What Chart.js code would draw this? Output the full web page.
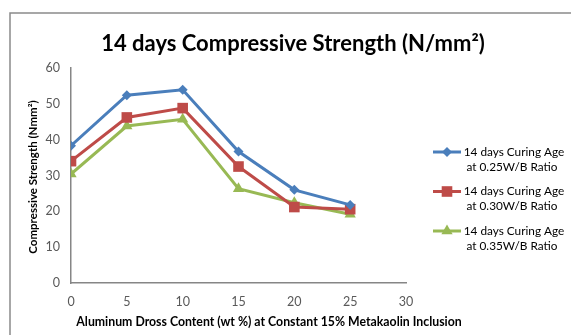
<!DOCTYPE html>
<html>
<head>
<meta charset="utf-8">
<script src="https://cdn.jsdelivr.net/npm/chart.js@4/dist/chart.umd.min.js"></script>
<style>
  html, body { margin: 0; padding: 0; background: #fff; }
  #wrap { position: relative; width: 571px; height: 335px; }
</style>
</head>
<body>
<div id="wrap"><canvas id="c" width="571" height="335"></canvas></div>
<script>
// Aluminum dross content (wt %) at constant 15% metakaolin
const drossContent = [0, 5, 10, 15, 20, 25];

// 14-day compressive strength for each water/binder ratio
const strengthWB025 = [38.3, 52.4, 53.9, 36.7, 26.0, 21.8];
const strengthWB030 = [34.0, 46.2, 48.8, 32.5, 21.2, 20.6];
const strengthWB035 = [30.4, 43.8, 45.7, 26.3, 22.4, 19.2];

const seriesNames = [
  ['14 days Curing Age', 'at 0.25W/B Ratio'],
  ['14 days Curing Age', 'at 0.30W/B Ratio'],
  ['14 days Curing Age', 'at 0.35W/B Ratio']
];

const xTicks = [0, 5, 10, 15, 20, 25, 30];
const yTicks = [0, 10, 20, 30, 40, 50, 60];

const chartTitle = '14 days Compressive Strength (N/mm\u00B2)';
const yTitle = 'Compressive Strength (Nmm\u00B2)';
const xTitle = 'Aluminum Dross Content (wt %) at Constant 15% Metakaolin Inclusion';

const colors = ['#4A7EBB', '#BE4B48', '#98B954'];
const styles = ['rectRot', 'rect', 'triangle'];
const radii = [5, 7.5, 6.5];
const values = [strengthWB025, strengthWB030, strengthWB035];

const FONT = 'Lato, "Liberation Sans", sans-serif';

function pts(arr) {
  return drossContent.map((x, i) => ({ x: x, y: arr[i] }));
}

function drawMarker(ctx, style, x, y, r, color) {
  ctx.save();
  ctx.fillStyle = color;
  ctx.beginPath();
  if (style === 'rectRot') {
    ctx.moveTo(x, y - r); ctx.lineTo(x + r, y); ctx.lineTo(x, y + r); ctx.lineTo(x - r, y);
  } else if (style === 'rect') {
    const s = r * Math.SQRT1_2;
    ctx.rect(x - s, y - s, 2 * s, 2 * s);
  } else {
    ctx.moveTo(x, y - r);
    ctx.lineTo(x + r * 0.866, y + r / 2);
    ctx.lineTo(x - r * 0.866, y + r / 2);
  }
  ctx.closePath();
  ctx.fill();
  ctx.restore();
}

// Frame, titles and legend drawn around the plot
const decorations = {
  id: 'decorations',
  beforeDraw(chart) {
    const ctx = chart.ctx;
    ctx.save();
    ctx.strokeStyle = '#8a8a8a';
    ctx.lineWidth = 1.5;
    ctx.beginPath();
    ctx.moveTo(10, 335);
    ctx.lineTo(10, 13);
    ctx.lineTo(571, 13);
    ctx.stroke();
    ctx.restore();
  },
  afterDraw(chart) {
    const ctx = chart.ctx;
    ctx.save();
    ctx.fillStyle = '#000';
    ctx.textAlign = 'center';
    ctx.textBaseline = 'middle';
    ctx.font = 'bold 22px ' + FONT;
    ctx.fillText(chartTitle, 293, 44);

    ctx.font = 'bold 12.3px ' + FONT;
    ctx.fillText(xTitle, 269, 322);

    ctx.save();
    ctx.translate(33, 177);
    ctx.rotate(-Math.PI / 2);
    ctx.font = 'bold 11.5px ' + FONT;
    ctx.fillText(yTitle, 0, 0);
    ctx.restore();

    // legend
    ctx.font = '11.8px ' + FONT;
    ctx.fillStyle = '#000';
    for (let i = 0; i < seriesNames.length; i++) {
      const y = 152 + i * 39.5;
      ctx.strokeStyle = colors[i];
      ctx.lineWidth = 3;
      ctx.beginPath();
      ctx.moveTo(433, y);
      ctx.lineTo(461, y);
      ctx.stroke();
      drawMarker(ctx, styles[i], 447, y, radii[i], colors[i]);
      ctx.fillText(seriesNames[i][0], 514, y);
      ctx.fillText(seriesNames[i][1], 512, y + 15);
    }
    ctx.restore();
  }
};

new Chart(document.getElementById('c'), {
  type: 'line',
  data: {
    datasets: values.map((v, i) => ({
      label: seriesNames[i].join(' '),
      data: pts(v),
      borderColor: colors[i],
      backgroundColor: colors[i],
      borderWidth: 3,
      pointStyle: styles[i],
      pointRadius: radii[i],
      pointBorderWidth: 0,
      pointBackgroundColor: colors[i],
      tension: 0
    }))
  },
  options: {
    responsive: false,
    animation: false,
    layout: { padding: { left: 0, top: 68, right: 165, bottom: 0 } },
    plugins: { legend: { display: false }, title: { display: false }, tooltip: { enabled: false } },
    scales: {
      x: {
        type: 'linear', min: 0, max: 30,
        afterBuildTicks(s) { s.ticks = xTicks.map(v => ({ value: v })); },
        afterFit(s) { s.height = 52; },
        grid: { display: false, drawTicks: false },
        border: { display: true, color: '#868686', width: 1.5 },
        ticks: { color: '#595959', font: { family: FONT, size: 12.5 }, padding: 11, maxRotation: 0 }
      },
      y: {
        min: 0, max: 60,
        afterBuildTicks(s) { s.ticks = yTicks.map(v => ({ value: v })); },
        afterFit(s) { s.width = 71; },
        grid: { display: false, drawTicks: false },
        border: { display: true, color: '#868686', width: 1.5 },
        ticks: { color: '#595959', font: { family: FONT, size: 12.5 }, padding: 11 }
      }
    }
  },
  plugins: [decorations]
});
</script>
</body>
</html>
